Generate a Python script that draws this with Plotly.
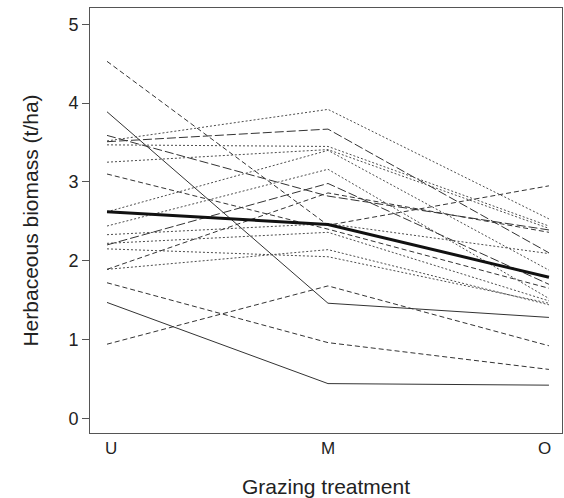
import plotly.graph_objects as go

treatments = ["U", "M", "O"]

# Individual site series (values at U, M, O)
u_vals = [4.53, 3.89, 3.59, 3.52, 3.51, 3.47, 3.25, 3.10, 2.62, 2.44, 2.33, 2.22, 2.20, 2.15, 1.89, 1.89, 1.72, 1.47, 0.94]
m_vals = [2.45, 1.46, 2.82, 3.92, 3.67, 3.45, 3.41, 2.40, 3.40, 3.16, 2.47, 2.36, 2.98, 2.05, 2.14, 2.86, 0.96, 0.44, 1.68]
o_vals = [2.95, 1.28, 2.39, 2.53, 2.10, 2.44, 2.41, 1.65, 1.88, 1.52, 2.09, 1.49, 1.70, 1.46, 1.44, 2.36, 0.62, 0.42, 0.92]
styles = ["dash", "solid", "longdash", "dot", "longdash", "dot", "dot", "dash", "dot", "dot",
          "dot", "dot", "longdash", "dot", "dot", "dash", "dash", "solid", "dash"]

mean_vals = [2.62, 2.46, 1.79]

y_ticks = [0, 1, 2, 3, 4, 5]

fig = go.Figure()
for u, m, o, s in zip(u_vals, m_vals, o_vals, styles):
    dash = {"dash": "5px,3px", "longdash": "9px,3px", "dot": "2px,2px", "solid": "solid"}[s]
    fig.add_trace(go.Scatter(
        x=[0, 1, 2], y=[u, m, o], mode="lines",
        line=dict(color="#333333" if s != "dot" else "#4d4d4d", width=1, dash=dash),
        showlegend=False, hoverinfo="skip"))

fig.add_trace(go.Scatter(x=[0, 1, 2], y=mean_vals, mode="lines",
                         line=dict(color="#111111", width=3), showlegend=False,
                         hoverinfo="skip"))

# labels nudged slightly inward, as in the reference
tick_text = ["\u2002" + treatments[0], treatments[1], treatments[2] + "\u2002"]

font_family = "Liberation Sans, Arial, sans-serif"
fig.update_layout(
    width=564, height=498,
    margin=dict(l=90, r=2, t=8, b=65),
    plot_bgcolor="white", paper_bgcolor="white",
    font=dict(family=font_family, color="#222222"),
    xaxis=dict(
        range=[-0.077, 2.059],
        tickmode="array", tickvals=[0, 1, 2], ticktext=tick_text,
        showgrid=False, zeroline=False,
        showline=True, mirror=True, linecolor="#555555", linewidth=1,
        ticks="", tickfont=dict(size=17),
        title=dict(text="Grazing treatment", font=dict(size=21), standoff=24),
    ),
    yaxis=dict(
        range=[-0.187, 5.207],
        tickmode="array", tickvals=y_ticks, ticktext=[str(v) for v in y_ticks],
        showgrid=False, zeroline=False,
        showline=True, mirror=True, linecolor="#555555", linewidth=1,
        ticks="outside", ticklen=7, tickcolor="#555555", tickfont=dict(size=18),
        title=dict(text="Herbaceous biomass (t/ha)", font=dict(size=21), standoff=24),
    ),
)

fig.write_html("out.html", config={"displayModeBar": False},
               post_script="document.body.style.margin='0';document.body.style.padding='0';")
